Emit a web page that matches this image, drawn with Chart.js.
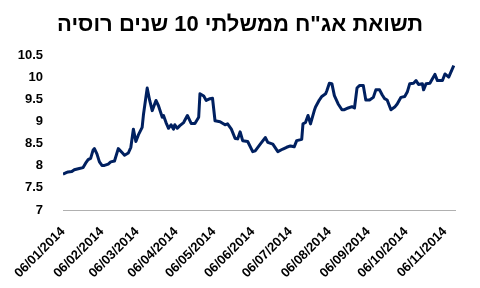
<!DOCTYPE html>
<html>
<head>
<meta charset="utf-8">
<script src="https://cdn.jsdelivr.net/npm/chart.js@4.4.1/dist/chart.umd.min.js"></script>
<style>
  body { margin: 0; background: #fff; }
</style>
</head>
<body>
<canvas id="myChart" width="480" height="288"></canvas>
<script>
// days counted from 06/01/2014
let days = [0, 3, 4, 7, 9, 13, 16, 18, 20, 22, 24, 25, 27, 29, 31, 33, 36, 38, 41, 44,
    47, 49, 52, 54, 56, 58, 60, 63, 64, 67, 69, 71, 74, 76, 79, 80, 82, 84, 86, 88,
    89, 91, 93, 96, 99, 102, 105, 108, 109, 112, 114, 117, 119, 121, 125, 129, 131, 134, 137, 139,
    141, 143, 147, 151, 153, 157, 161, 163, 167, 171, 175, 178, 181, 184, 186, 190, 191, 193, 195, 197,
    200, 201, 204, 206, 209, 210, 212, 214, 216, 219, 222, 224, 227, 230, 232, 234, 236, 239, 241, 244,
    247, 249, 252, 254, 256, 258, 261, 264, 266, 269, 272, 274, 276, 279, 281, 283, 286, 287, 289, 292,
    296, 298, 302, 304, 307, 311];
let yields = [7.81, 7.85, 7.86, 7.87, 7.91, 7.94, 7.96, 8.06, 8.14, 8.17, 8.36, 8.39, 8.27, 8.09, 8.01, 8.01, 8.04, 8.09, 8.11, 8.39,
    8.30, 8.24, 8.29, 8.42, 8.83, 8.55, 8.70, 8.87, 9.15, 9.76, 9.48, 9.25, 9.48, 9.36, 9.10, 9.14, 8.98, 8.85, 8.93, 8.83,
    8.93, 8.85, 8.91, 8.98, 9.14, 8.96, 8.96, 9.10, 9.63, 9.58, 9.48, 9.52, 9.53, 9.02, 9.00, 8.93, 8.95, 8.83, 8.62, 8.61,
    8.77, 8.57, 8.55, 8.32, 8.34, 8.49, 8.64, 8.53, 8.49, 8.32, 8.38, 8.42, 8.45, 8.43, 8.57, 8.60, 8.95, 8.98, 9.14, 8.95,
    9.25, 9.33, 9.49, 9.57, 9.63, 9.70, 9.87, 9.86, 9.59, 9.40, 9.27, 9.27, 9.31, 9.34, 9.31, 9.76, 9.82, 9.82, 9.49, 9.49,
    9.55, 9.72, 9.72, 9.61, 9.52, 9.49, 9.27, 9.33, 9.40, 9.55, 9.57, 9.67, 9.86, 9.87, 9.93, 9.84, 9.86, 9.72, 9.86, 9.87,
    10.07, 9.93, 9.93, 10.08, 10.01, 10.27];

let tickDays = [0, 31, 59, 90, 120, 151, 181, 212, 243, 273, 304];
let tickLabels = ['06/01/2014', '06/02/2014', '06/03/2014', '06/04/2014', '06/05/2014', '06/06/2014',
    '06/07/2014', '06/08/2014', '06/09/2014', '06/10/2014', '06/11/2014'];

let points = days.map((d, i) => ({ x: d, y: yields[i] }));

let ctx = document.getElementById('myChart').getContext('2d');
let chart = new Chart(ctx, {
    type: 'line',
    data: {
        datasets: [{
            label: 'Russia 10Y',
            data: points,
            borderColor: '#002060',
            borderWidth: 3,
            borderJoinStyle: 'round',
            pointRadius: 0,
            tension: 0,
            yAxisID: 'y'
        }]
    },
    options: {
        responsive: false,
        animation: false,
        layout: {
            padding: { left: 12, right: 12, top: 0, bottom: 0 }
        },
        plugins: {
            legend: { display: false },
            tooltip: { enabled: false },
            title: {
                display: true,
                text: 'תשואת אג"ח ממשלתי 10 שנים רוסיה',
                color: '#000',
                font: { family: 'Liberation Sans', size: 22, weight: 'bold' },
                padding: { top: 12, bottom: 17 }
            }
        },
        scales: {
            x: {
                type: 'linear',
                min: 0,
                max: 312,
                grid: { display: false, drawTicks: false },
                border: { display: true, color: '#b0b0b0', width: 1 },
                afterBuildTicks: function (scale) {
                    scale.ticks = tickDays.map(d => ({ value: d }));
                },
                afterFit: function (scale) {
                    scale.height = 78;
                    // rotated labels may hang past the plot's left edge
                    scale.paddingLeft = 0;
                    scale.paddingRight = 0;
                },
                ticks: {
                    autoSkip: false,
                    maxRotation: 45,
                    minRotation: 45,
                    padding: 14,
                    color: '#000',
                    font: { family: 'Liberation Sans', size: 13, weight: 'bold' },
                    callback: function (value) {
                        let i = tickDays.indexOf(value);
                        return i >= 0 ? tickLabels[i] : '';
                    }
                }
            },
            y: {
                min: 7,
                max: 10.5,
                grid: { display: false },
                border: { display: false },
                afterFit: function (scale) {
                    scale.width = 51;
                },
                ticks: {
                    stepSize: 0.5,
                    padding: 12,
                    color: '#000',
                    font: { family: 'Liberation Sans', size: 13, weight: 'bold' },
                    callback: function (value) {
                        return String(value);
                    }
                }
            },
            // empty right-hand axis, only keeps the plot clear of the right edge
            yRight: {
                position: 'right',
                grid: { display: false },
                border: { display: false },
                ticks: { display: false },
                afterFit: function (scale) {
                    scale.width = 13;
                }
            }
        }
    }
});
</script>
</body>
</html>
